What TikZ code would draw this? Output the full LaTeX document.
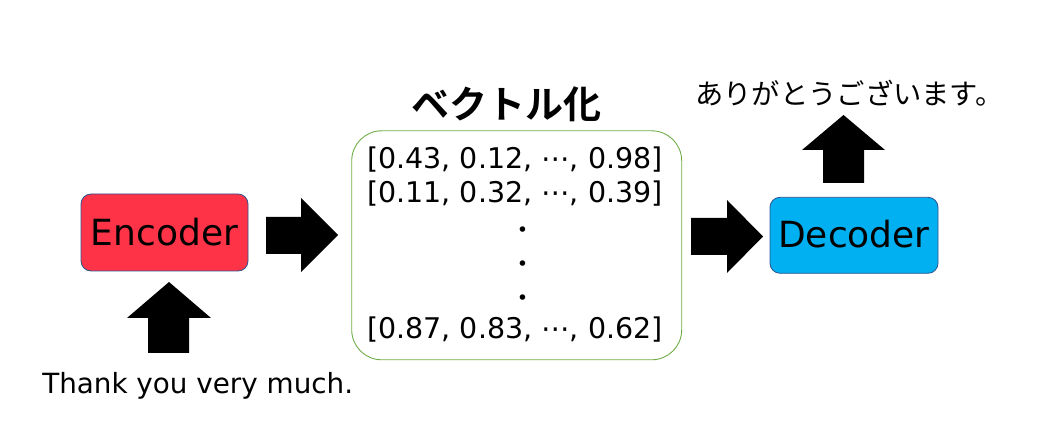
\documentclass[tikz,border=0pt]{standalone}
\usepackage{fontspec}
\setmainfont{DejaVu Sans}
\newfontfamily\cjk[BoldFont={Noto Sans CJK JP Bold}]{Noto Sans CJK JP}
\definecolor{encred}{RGB}{255,51,71}
\definecolor{deccyan}{RGB}{0,176,240}
\definecolor{boxedge}{RGB}{47,82,143}
\definecolor{vecgreen}{RGB}{112,173,71}
\newcommand{\vdotline}{\hspace*{15pt}\raisebox{1.5pt}{\fontsize{19}{19}\selectfont ∙}}
\begin{document}
\begin{tikzpicture}[x=1pt,y=-1pt,
  unitbox/.style={draw=boxedge,line width=0.8pt,rounded corners=10pt,inner sep=0pt},
  blockarrow/.style={fill=black,draw=none},
  vecbox/.style={draw=vecgreen,line width=0.9pt,rounded corners=30pt}]
\useasboundingbox (0,0) rectangle (1037,446);
% boxes
\node[unitbox,fill=encred,minimum width=167pt,minimum height=77pt] (enc) at (164.5,232.5) {};
\node[anchor=base,font=\fontsize{36}{40}\selectfont] (enctext) at (164.5,245.7) {Encoder};
\node[unitbox,fill=deccyan,minimum width=168pt,minimum height=76pt] (dec) at (854,235.3) {};
\node[anchor=base,font=\fontsize{36}{40}\selectfont] (dectext) at (854,248) {Decoder};
\node[vecbox,minimum width=330pt,minimum height=229pt] (vec) at (516.7,245.3) {};
% vector contents
\node[font=\fontsize{28.5}{34}\selectfont,align=center,inner sep=0pt] (vals) at (515,245)
  {{[}0.43, 0.12, ⋯, 0.98{]}\\{[}0.11, 0.32, ⋯, 0.39{]}\\\vdotline\\\vdotline\\\vdotline\\{[}0.87, 0.83, ⋯, 0.62{]}};
\node[font=\cjk\bfseries\fontsize{38}{42}\selectfont] (title) at (506.7,104) {ベクトル化};
% texts
\node[anchor=base,font=\fontsize{27.8}{32}\selectfont] (input) at (197.7,393.3) {Thank you very much.};
\node[font=\cjk\fontsize{28.3}{32}\selectfont] (output) at (849.5,93) {ありがとうございます。};
% block arrows
\draw[blockarrow] (266,217) -- (301,217) -- (301,198) -- (338,235) -- (301,272) -- (301,254) -- (266,254) -- cycle;
\draw[blockarrow] (691,218) -- (727,218) -- (727,200) -- (763,236.5) -- (727,273) -- (727,255) -- (691,255) -- cycle;
\draw[blockarrow] (148,353) -- (148,318) -- (127,318) -- (169,282) -- (211,318) -- (189,318) -- (189,353) -- cycle;
\draw[blockarrow] (823,183) -- (823,150) -- (802,150) -- (843.5,115) -- (885,150) -- (864,150) -- (864,183) -- cycle;
\end{tikzpicture}
\end{document}
